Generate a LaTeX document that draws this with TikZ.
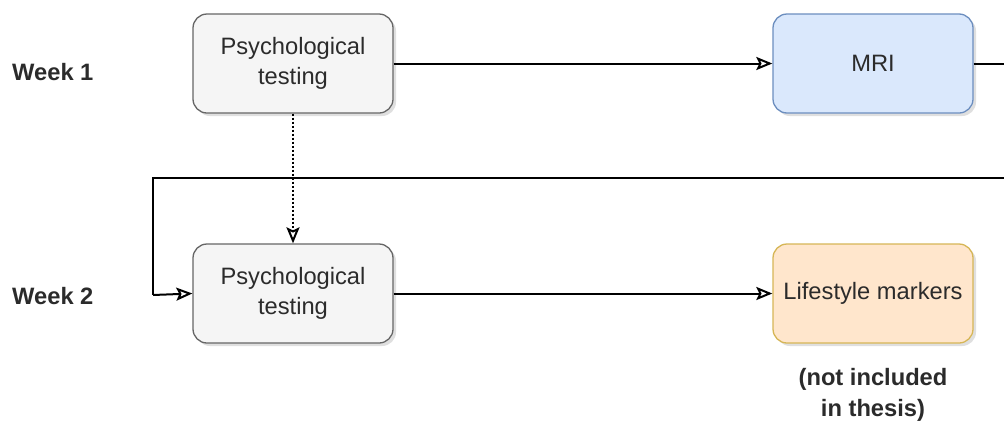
\documentclass[tikz,border=0pt]{standalone}
\usepackage{fontspec}
\setmainfont{Liberation Sans}
\usetikzlibrary{arrows.meta,shadows}
\definecolor{grayfill}{HTML}{F5F5F5}
\definecolor{grayline}{HTML}{666666}
\definecolor{txt}{HTML}{2B2B2B}
\definecolor{bluefill}{HTML}{DAE8FC}
\definecolor{blueline}{HTML}{6C8EBF}
\definecolor{orangefill}{HTML}{FFE6CC}
\definecolor{orangeline}{HTML}{D6B656}
\begin{document}
\begin{tikzpicture}[x=1pt,y=-1pt,
  box/.style={draw, line width=1.3pt, rounded corners=14pt, minimum width=200pt, minimum height=99pt,
    align=center, inner sep=0pt, font=\fontsize{23.7}{30}\selectfont, text=txt,
    drop shadow={opacity=0.25, shadow xshift=3pt, shadow yshift=-3pt}},
  graybox/.style={box, fill=grayfill, draw=grayline},
  bluebox/.style={box, fill=bluefill, draw=blueline},
  orangebox/.style={box, fill=orangefill, draw=orangeline},
  lbl/.style={font=\bfseries\fontsize{23.7}{31}\selectfont, text=txt, align=center, inner sep=0pt},
  conn/.style={line width=2pt, -{Stealth[open, inset=3pt, length=16pt, width=13pt, line width=2pt]}},
]
\useasboundingbox (0,0) rectangle (1004,421);
\clip (0,0) rectangle (1004,421);
\node[graybox] (p1) at (293,63.5) {Psychological\\testing};
\node[bluebox] (mri) at (873,63.5) {MRI};
\node[graybox] (p2) at (293,293.5) {Psychological\\testing};
\node[orangebox] (life) at (873,293.5) {Lifestyle markers};
\node[lbl, anchor=west] (w1) at (12,72) {Week 1};
\node[lbl, anchor=west] (w2) at (12,296) {Week 2};
\node[lbl] (note) at (873,395) {(not included\\in thesis)};
\coordinate (r1) at (1012,63.5);
\coordinate (r2) at (1012,178);
\coordinate (l1) at (153,178);
\coordinate (l2) at (153,295);
\draw[conn] (p1.east) -- (mri.west);
\draw[conn] (p2.east) -- (life.west);
\draw[conn, dotted, line width=2.2pt] (p1.south) -- (p2.north);
\draw[line width=2pt] (mri.east) -- (r1) -- (r2) -- (l1) -- (l2);
\draw[conn] (l2) -- (p2.west);
\end{tikzpicture}
\end{document}
